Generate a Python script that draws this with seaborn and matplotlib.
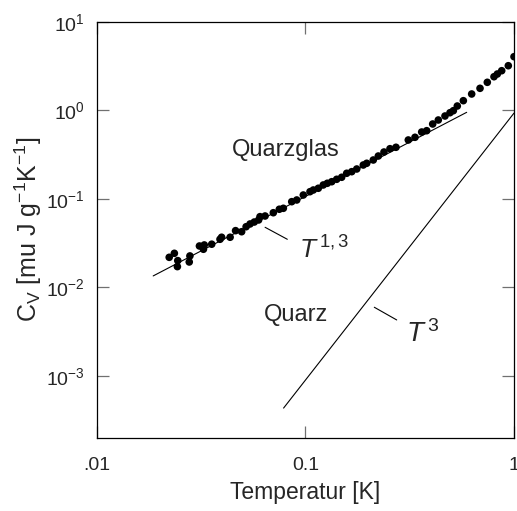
import numpy as np
import pandas as pd
import matplotlib
matplotlib.use("Agg")
import matplotlib.pyplot as plt
import seaborn as sns
from matplotlib.ticker import FixedLocator, FixedFormatter, NullLocator

# Quarzglas measured heat capacity (T in K, C_V in mu J g^-1 K^-1)
glas_T = [0.0222, 0.0235, 0.0244, 0.0243, 0.0279, 0.0277, 0.0310, 0.0327, 0.0324,
          0.0355, 0.0389, 0.0396, 0.0435, 0.0462, 0.0494, 0.0519, 0.0542, 0.0568,
          0.0596, 0.0605, 0.0640, 0.0701, 0.0749, 0.0783, 0.0859, 0.0908, 0.0976,
          0.1051, 0.1090, 0.1152, 0.1217, 0.1272, 0.1336, 0.1411, 0.1491, 0.1576,
          0.1666, 0.1761, 0.1893, 0.1966, 0.2114, 0.2235, 0.2379, 0.2542, 0.2716,
          0.3112, 0.3351, 0.3608, 0.3813, 0.4074, 0.4335, 0.4667, 0.4932, 0.5118,
          0.5346, 0.5715, 0.6266, 0.6871, 0.7447, 0.8017, 0.8318, 0.8730, 0.9391, 1.0]
glas_C = [0.0219, 0.0243, 0.0201, 0.0172, 0.0227, 0.0194, 0.0294, 0.0302, 0.0270,
          0.0308, 0.0350, 0.0369, 0.0369, 0.0438, 0.0426, 0.0485, 0.0521, 0.0548,
          0.0578, 0.0630, 0.0641, 0.0698, 0.0764, 0.0783, 0.0930, 0.0972, 0.1106,
          0.1206, 0.1260, 0.1318, 0.1436, 0.1500, 0.1563, 0.1664, 0.1754, 0.1946,
          0.2028, 0.2175, 0.2413, 0.2523, 0.2748, 0.3048, 0.3382, 0.3686, 0.3824,
          0.4624, 0.4958, 0.5689, 0.5886, 0.7005, 0.7772, 0.8623, 0.9395, 0.9897,
          1.118, 1.284, 1.528, 1.771, 2.070, 2.394, 2.569, 2.799, 3.187, 4.03]

# T^1,3 fit line for Quarzglas
fit_glas_T = [0.0186, 0.593]
fit_glas_C = [0.0135, 0.949]

# T^3 Debye line for Quarz
fit_quarz_T = [0.0785, 1.0]
fit_quarz_C = [0.000435, 0.93]

x_ticks = [0.01, 0.1, 1]
x_tick_labels = [".01", "0.1", "1"]
y_ticks = [1e-3, 1e-2, 1e-1, 1e0, 1e1]
y_tick_labels = [r"$10^{-3}$", r"$10^{-2}$", r"$10^{-1}$", r"$10^{0}$", r"$10^{1}$"]

sns.set_style("ticks")
plt.rcParams["font.family"] = ["Liberation Sans", "DejaVu Sans"]
plt.rcParams["mathtext.fontset"] = "custom"
plt.rcParams["mathtext.rm"] = "Liberation Sans"
plt.rcParams["mathtext.it"] = "Liberation Sans:italic"
plt.rcParams["mathtext.default"] = "rm"

fig = plt.figure(figsize=(5.17, 5.11), dpi=100)
ax = fig.add_axes([0.1876, 0.1429, 0.8066, 0.8146])

df_glas = pd.DataFrame({"T": glas_T, "C": glas_C})
df_fit1 = pd.DataFrame({"T": fit_glas_T, "C": fit_glas_C})
df_fit2 = pd.DataFrame({"T": fit_quarz_T, "C": fit_quarz_C})

sns.lineplot(data=df_fit1, x="T", y="C", ax=ax, color="black", lw=0.8)
sns.lineplot(data=df_fit2, x="T", y="C", ax=ax, color="black", lw=0.8)
sns.scatterplot(data=df_glas, x="T", y="C", ax=ax, color="black", s=30,
                edgecolor="none", zorder=3)

ax.set_xscale("log")
ax.set_yscale("log")
ax.set_xlim(0.01, 1)
ax.set_ylim(2.0e-4, 10)

ax.xaxis.set_major_locator(FixedLocator(x_ticks))
ax.xaxis.set_major_formatter(FixedFormatter(x_tick_labels))
ax.xaxis.set_minor_locator(NullLocator())
ax.yaxis.set_major_locator(FixedLocator(y_ticks))
ax.yaxis.set_major_formatter(FixedFormatter(y_tick_labels))
ax.yaxis.set_minor_locator(NullLocator())

ax.tick_params(which="major", direction="in", length=8.5, width=0.9,
               color="#707070", labelsize=14, top=True, right=True)
ax.tick_params(axis="x", pad=14)
ax.tick_params(axis="y", pad=9)

for sp in ax.spines.values():
    sp.set_linewidth(0.9)
    sp.set_color("black")

ax.set_xlabel("Temperatur [K]", fontsize=16.5, labelpad=5)
ax.set_ylabel(r"C$_V$ [mu J g$^{-1}$K$^{-1}$]", fontsize=18, labelpad=1.5)

# annotations
ax.text(0.0807, 0.356, "Quarzglas", fontsize=17, ha="center", va="center")
ax.text(0.0900, 0.0049, "Quarz", fontsize=17, ha="center", va="center")
ax.text(0.093, 0.0210, r"$\mathit{T}^{\,\mathit{1,3}}$", fontsize=19,
        ha="left", va="baseline")
ax.text(0.305, 0.00243, r"$\mathit{T}^{\,3}$", fontsize=20, ha="left", va="baseline")
ax.plot([0.0640, 0.0818], [0.0478, 0.0350], color="black", lw=0.8)
ax.plot([0.2138, 0.2738], [0.00598, 0.00430], color="black", lw=0.8)

fig.savefig("out.png", dpi=100)
